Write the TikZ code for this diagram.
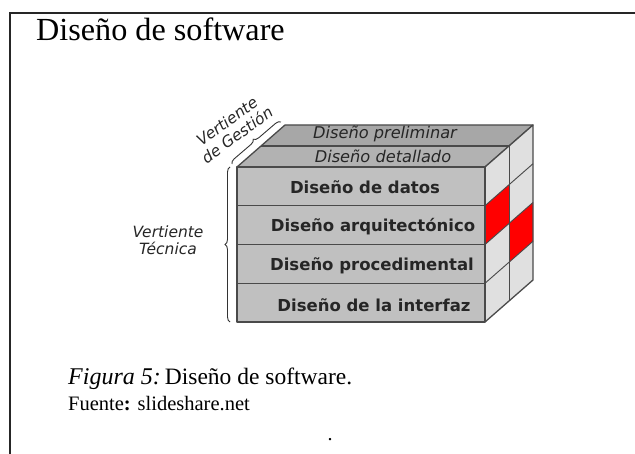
\documentclass[tikz,border=0pt]{standalone}
\usepackage{fontspec}
\setmainfont{Liberation Serif}
\newfontfamily\dv{DejaVu Sans}
\usetikzlibrary{decorations.pathreplacing}
\definecolor{topgray}{HTML}{A2A2A2}
\definecolor{frontgray}{HTML}{C0C0C0}
\definecolor{sidegray}{HTML}{E0E0E0}
\definecolor{edgegray}{HTML}{4A4A4A}
\tikzset{
  cubeedge/.style={draw=edgegray, line width=1.3pt, line join=round},
  rowlabel/.style={font=\dv\bfseries\fontsize{16.5}{18}\selectfont, text=black!85, inner sep=0pt},
  toplabel/.style={font=\dv\itshape\fontsize{16.2}{18}\selectfont, text=black!85, inner sep=0pt},
  sidelabel/.style={font=\dv\itshape\fontsize{15.5}{17}\selectfont, text=black!85, inner sep=0pt, align=center},
  bracestyle/.style={draw=black!80, line width=0.9pt, decorate, decoration={brace, amplitude=5pt}},
}
\begin{document}
\begin{tikzpicture}[x=1pt, y=-1pt]
\useasboundingbox (0,0) rectangle (635,454);
% page frame
\draw[line width=1.2pt, black!85] (10,454) -- (10,13) -- (635,13);
% title
\node[anchor=base west, inner sep=0pt, font=\fontsize{32.2}{35}\selectfont] (title) at (36,41) {Diseño de software};

% top face (two bands)
\fill[topgray!95] (261,146) -- (509,146) -- (533,125) -- (285,125) -- cycle;
\fill[topgray!110!black] (237,167) -- (485,167) -- (509,146) -- (261,146) -- cycle;
\draw[cubeedge] (237,167) -- (485,167) -- (533,125) -- (285,125) -- cycle;
\draw[cubeedge] (261,146) -- (509,146);
% side face
\fill[sidegray] (485,167) -- (533,125) -- (533,280) -- (485,322) -- cycle;
\fill[red] (485,205.75) -- (509,184.75) -- (509,223.5) -- (485,244.5) -- cycle;
\fill[red] (509,223.5) -- (533,202.5) -- (533,241.25) -- (509,262.25) -- cycle;
\foreach \yb in {205.75,244.5,283.25} \draw[edgegray, line width=0.9pt] (485,\yb) -- (533,\yb-42);
\draw[edgegray, line width=0.9pt] (509,146) -- (509,301);
\draw[cubeedge] (485,167) -- (533,125) -- (533,280) -- (485,322);
% front face
\fill[frontgray] (237,167) rectangle (485,322);
\foreach \yb in {205.75,244.5,283.25} \draw[edgegray, line width=1.1pt] (237,\yb) -- (485,\yb);
\draw[cubeedge] (237,167) rectangle (485,322);

% labels of the layers
\node[toplabel] (prelim) at (385,134) {Diseño preliminar};
\node[toplabel] (detal) at (383,156) {Diseño detallado};
\node[rowlabel] (datos) at (365,187) {Diseño de datos};
\node[rowlabel] (arq) at (373,227) {Diseño arquitectónico};
\node[rowlabel] (proc) at (372,266) {Diseño procedimental};
\node[rowlabel] (inter) at (374,305) {Diseño de la interfaz};

% braces
\coordinate (bt) at (230,167);
\coordinate (bb) at (230,322);
\coordinate (gb) at (232,164);
\coordinate (gt) at (281,122);
\draw[bracestyle] (bb) -- (bt);
\draw[bracestyle] (gb) -- (gt);
\node[sidelabel] (tec) at (168,240) {Vertiente\\Técnica};
\node[sidelabel, rotate=36] (ges) at (232,128) {Vertiente\\de Gestión};

% caption
\node[anchor=base west, inner sep=0pt, font=\fontsize{24}{26}\selectfont] (cap) at (68,385)
  {\textit{Figura 5:}\hspace{4pt}{\fontsize{23.5}{26}\selectfont Diseño de software.}};
\node[anchor=base west, inner sep=0pt, font=\fontsize{20.5}{24}\selectfont] (src) at (68,411)
  {Fuente\textbf{:} slideshare.net};
\node[inner sep=0pt, font=\fontsize{20}{24}\selectfont] (dot) at (330,440) {.};
\end{tikzpicture}
\end{document}
